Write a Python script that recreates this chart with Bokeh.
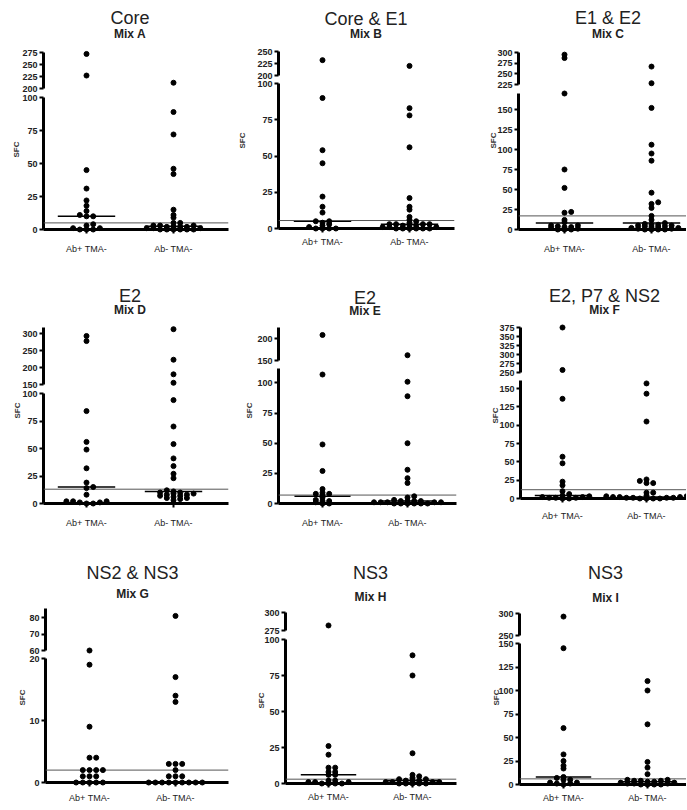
import math
from bokeh.plotting import figure
from bokeh.layouts import row, column
from bokeh.models import Range1d, FixedTicker, Span
from bokeh.embed import file_html
from bokeh.resources import INLINE
from bokeh.core.properties import value

FONT = "Liberation Sans"

# ---------------- data ----------------
titles = ["Core", "Core & E1", "E1 & E2", "E2", "E2", "E2, P7 & NS2", "NS2 & NS3", "NS3", "NS3"]
mixes = ["Mix A", "Mix B", "Mix C", "Mix D", "Mix E", "Mix F", "Mix G", "Mix H", "Mix I"]
categories = ["Ab+ TMA-", "Ab- TMA-"]
y_label = "SFC"

mix_a_pos = [272, 227, 45, 31, 22, 18, 14, 11, 10, 10, 4, 3, 1, 1, 0, 0, 0]
mix_a_neg = [212, 89, 72, 46, 42, 15, 11, 9, 5, 5, 3, 3, 3, 2, 2, 2, 2, 1, 1, 1, 0, 0, 0, 0, 0, 0]
mix_b_pos = [232, 90, 54, 45, 22, 15, 11, 5, 5, 4, 3, 2, 1, 0, 0, 0, 0]
mix_b_neg = [220, 83, 78, 56, 21, 15, 13, 8, 6, 5, 4, 3, 3, 3, 3, 2, 2, 2, 1, 1, 1, 0, 0, 0, 0, 0, 0]
mix_c_pos = [295, 287, 170, 75, 52, 22, 21, 12, 9, 5, 5, 4, 3, 3, 2, 1, 0, 0, 0]
mix_c_neg = [267, 228, 152, 106, 95, 86, 46, 34, 32, 27, 17, 12, 8, 7, 6, 6, 5, 5, 4, 4, 3, 3, 2, 2, 1, 1, 0, 0, 0, 0]
mix_d_pos = [293, 278, 84, 56, 49, 32, 19, 15, 14, 8, 2, 2, 2, 1, 1, 0, 0]
mix_d_neg = [313, 223, 180, 155, 94, 70, 54, 41, 34, 27, 23, 12, 11, 10, 10, 9, 9, 8, 8, 7, 7, 6, 5, 5, 4, 3]
mix_e_pos = [208, 107, 49, 27, 12, 9, 8, 8, 7, 5, 3, 2, 2, 1, 0, 0]
mix_e_neg = [162, 101, 89, 50, 28, 21, 17, 6, 5, 3, 2, 2, 2, 2, 1, 1, 1, 1, 1, 0, 0, 0, 0, 0, 0]
mix_f_pos = [375, 257, 136, 57, 48, 23, 18, 10, 6, 4, 3, 2, 2, 1, 1, 1, 0, 0]
mix_f_neg = [157, 143, 105, 26, 24, 21, 21, 8, 8, 4, 3, 3, 2, 2, 2, 1, 1, 1, 1, 0, 0, 0, 0]
mix_g_pos = [60, 19, 9, 4, 4, 2, 2, 2, 2, 1, 1, 1, 0, 0, 0, 0, 0]
mix_g_neg = [81, 17, 14, 13, 3, 3, 3, 2, 1, 1, 1, 0, 0, 0, 0, 0, 0, 0, 0, 0]
mix_h_pos = [282, 26, 20, 11, 11, 8, 8, 6, 6, 2, 2, 1, 1, 1, 0, 0, 0, 0]
mix_h_neg = [89, 75, 21, 6, 5, 4, 3, 3, 2, 2, 2, 1, 1, 1, 1, 0, 0, 0, 0, 0]
mix_i_pos = [293, 145, 60, 32, 25, 20, 17, 8, 7, 5, 5, 2, 2, 1, 1, 0]
mix_i_neg = [110, 100, 64, 24, 18, 11, 5, 5, 4, 4, 4, 3, 3, 2, 2, 1, 1, 1, 0, 0, 0, 0]

pos_series = [mix_a_pos, mix_b_pos, mix_c_pos, mix_d_pos, mix_e_pos, mix_f_pos, mix_g_pos, mix_h_pos, mix_i_pos]
neg_series = [mix_a_neg, mix_b_neg, mix_c_neg, mix_d_neg, mix_e_neg, mix_f_neg, mix_g_neg, mix_h_neg, mix_i_neg]

median_pos = [10, 5, 8, 15, 6, 4, None, 6, 8]
median_neg = [2.5, 3, 8, 11, 2, 2, None, 2, 3]
cutoff = [5, 5.5, 17, 13, 7, 12, 2, 3, 6]

# broken axes: upper segment range and lower segment top
upper_range = [(200, 275), (200, 250), (225, 300), (150, 318), (150, 225), (250, 375), (60, 85.5), (275, 300), (250, 300)]
lower_top = [100, 100, 170, 100, 112, 161, 20, 100, 150]
upper_ticks = [[200, 225, 250, 275], [200, 225, 250], [225, 250, 275, 300], [150, 200, 250, 300],
               [150, 200], [250, 275, 300, 325, 350, 375], [60, 70, 80], [275, 300], [250, 300]]
lower_ticks = [[0, 25, 50, 75, 100], [0, 25, 50, 75, 100], [0, 25, 50, 75, 100, 125, 150],
               [0, 25, 50, 75, 100], [0, 25, 50, 75, 100], [0, 25, 50, 75, 100, 125, 150],
               [0, 10, 20], [0, 25, 50, 75, 100], [0, 25, 50, 75, 100, 125, 150]]

# ---------------- geometry (page pixels) ----------------
# axis_x, right, cat1_x, cat2_x, title_y, sub_y, up_top, up_bot, low_top, zero_y, catlabel_y
GEOM = [
    (43, 228, 86, 173, 17, 33, 52, 88, 97, 229, 248),
    (278, 454, 322, 409, 18, 33, 51, 75, 83, 228, 242),
    (518, 687, 564, 651, 17, 33, 52, 84, 93, 229, 248),
    (43, 228, 86, 173, 295, 309, 327, 384, 393, 503, 523),
    (278, 456, 322, 407, 297, 310, 327, 360, 368, 503, 522),
    (520, 687, 562, 646, 295, 309, 327, 372, 380, 498, 515),
    (45, 228, 89, 175, 572, 593, 608, 650, 658, 782, 798),
    (285, 456, 328, 412, 572, 596, 612, 630, 639, 783, 797),
    (519, 687, 563, 647, 572, 597, 613, 635, 643, 784, 797),
]
SFC_POS = [(16, 149), (242, 140), (493, 140), (17, 410), (249, 410), (495, 415), (22, 697), (261, 700), (496, 697)]
COL_X0 = [0, 229, 458]
COL_W = [229, 229, 228]
ROW_Y0 = [0, 270, 540]
ROW_H = [270, 270, 269]

SLOT_PX = 6.7
DOT = 5
HIT_Y = 2.2


def swarm(vals, center, to_px, slot):
    order = sorted(range(len(vals)), key=lambda i: vals[i])
    placed = []
    xs = [0.0] * len(vals)
    offsets = [0] + [s for j in range(1, 20) for s in (j, -j)]
    for i in order:
        py = to_px(vals[i])
        chosen = 0
        for s in offsets:
            if all(ps != s or abs(pp - py) >= HIT_Y for ps, pp in placed):
                chosen = s
                break
        placed.append((chosen, py))
        xs[i] = center + chosen * slot
    return xs


def style_y(ax):
    ax.axis_line_width = 3
    ax.axis_line_color = "black"
    ax.major_tick_line_width = 2
    ax.major_tick_out = 4
    ax.major_tick_in = 0
    ax.minor_tick_line_color = None
    ax.major_label_text_font = FONT
    ax.major_label_text_font_size = "9px"
    ax.major_label_text_font_style = "bold"
    ax.major_label_text_color = "#222222"
    ax.major_label_standoff = 2


def base_fig(w, h, xr, yr, bl, br, bt, bb, xloc="below", yloc="left"):
    p = figure(width=w, height=h, x_range=xr, y_range=yr, title=None,
               toolbar_location=None, output_backend="svg",
               x_axis_location=xloc, y_axis_location=yloc,
               min_border_left=bl, min_border_right=br, min_border_top=bt, min_border_bottom=bb)
    p.outline_line_color = None
    p.background_fill_color = "white"
    p.border_fill_color = "white"
    for g in p.grid:
        g.visible = False
    return p


def panel(k):
    r, c = divmod(k, 3)
    x0, w = COL_X0[c], COL_W[c]
    y0, h = ROW_Y0[r], ROW_H[r]
    ax, right, c1, c2, ty, sy, ut, ub, lt, z, ly = GEOM[k]
    fr = min(right, x0 + w)
    ppu = float(c2 - c1)
    xs = 1 - (c1 - ax) / ppu
    xe = 2 + (fr - c2) / ppu
    bl = ax - x0
    br = max(0, x0 + w - fr)
    pad = 6
    head_h = (ut - y0) - pad
    gap = lt - ub
    ga = gap - gap // 2
    gb = gap // 2
    bottom = h - (z - y0)
    up_lo, up_hi = upper_range[k]
    lo_hi = lower_top[k]
    up_scale = (ub - ut) / (up_hi - up_lo)
    lo_scale = (z - lt) / lo_hi

    # header with title and mix name, sharing the panel's x scale
    head = base_fig(w, head_h, Range1d(xs, xe), Range1d(head_h, 0), bl, br, 0, 0, xloc=None, yloc=None)
    head.text(x=[1.5], y=[ty - y0], text=[titles[k]], text_font=value(FONT), text_font_size=value("18px"),
              text_color="#222222", text_align=value("center"), text_baseline=value("middle"))
    head.text(x=[1.5], y=[sy - y0], text=[mixes[k]], text_font=value(FONT), text_font_size=value("12px"),
              text_font_style=value("bold"), text_color="#222222", text_align=value("center"),
              text_baseline=value("middle"))

    # upper segment
    up = base_fig(w, pad + (ub - ut) + ga, Range1d(xs, xe), Range1d(up_lo, up_hi), bl, br, pad, ga, xloc=None)
    up.yaxis.ticker = FixedTicker(ticks=upper_ticks[k])
    style_y(up.yaxis[0])

    # lower segment
    low = base_fig(w, gb + (z - lt) + bottom, Range1d(xs, xe), Range1d(0, lo_hi), bl, br, gb, bottom)
    low.yaxis.ticker = FixedTicker(ticks=lower_ticks[k])
    style_y(low.yaxis[0])
    xa = low.xaxis[0]
    xa.ticker = FixedTicker(ticks=[1, 2])
    xa.major_label_overrides = {1: categories[0], 2: categories[1]}
    xa.axis_line_width = 3
    xa.axis_line_color = "black"
    xa.major_tick_line_width = 2
    xa.major_tick_out = 4
    xa.major_tick_in = 0
    xa.minor_tick_line_color = None
    xa.major_label_text_font = FONT
    xa.major_label_text_font_size = "9px"
    xa.major_label_text_color = "#222222"
    stand = int(round((ly - z) - 4 - 5.5))
    stand = max(0, min(stand, bottom - 4 - 12))
    xa.major_label_standoff = stand

    # y-axis title, centred on the whole broken axis
    sfx, sfy = SFC_POS[k]
    low.text(x=[xs + (sfx - ax) / ppu], y=[(z - sfy) / lo_scale], text=[y_label], angle=math.pi / 2,
             text_font=value(FONT), text_font_size=value("8px"), text_font_style=value("bold"),
             text_color="#333333", text_align=value("center"), text_baseline=value("middle"),
             level="overlay")

    low.add_layout(Span(location=cutoff[k], dimension="width", line_color="#555555", line_width=1))
    for cat, m in ((1, median_pos[k]), (2, median_neg[k])):
        if m is not None:
            low.segment(x0=[cat - 0.33], y0=[m], x1=[cat + 0.33], y1=[m], line_color="black", line_width=1.5)

    def to_px(v):
        if v >= up_lo:
            return ub - (v - up_lo) * up_scale
        return z - v * lo_scale

    slot = SLOT_PX / ppu
    for cat, vals in ((1, pos_series[k]), (2, neg_series[k])):
        xs_pts = swarm(vals, cat, to_px, slot)
        ux = [x for x, v in zip(xs_pts, vals) if v >= up_lo]
        uy = [v for v in vals if v >= up_lo]
        lx = [x for x, v in zip(xs_pts, vals) if v < up_lo]
        lyv = [v for v in vals if v < up_lo]
        if uy:
            up.scatter(ux, uy, size=DOT, color="black", level="overlay")
        if lyv:
            low.scatter(lx, lyv, size=DOT, color="black", level="overlay")

    return column(head, up, low, spacing=0)


rows = [row(*[panel(3 * r + c) for c in range(3)], spacing=0) for r in range(3)]
layout = column(*rows, spacing=0)

with open("out.html", "w") as f:
    f.write(file_html(layout, INLINE, title="SFC by peptide mix"))
